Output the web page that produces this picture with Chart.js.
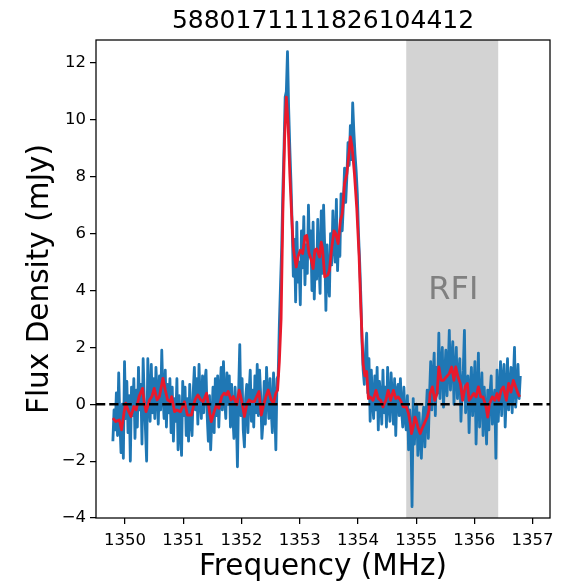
<!DOCTYPE html>
<html>
<head>
<meta charset="utf-8">
<script src="https://cdn.jsdelivr.net/npm/chart.js@4.4.0/dist/chart.umd.min.js"></script>
<style>
  html, body { margin: 0; padding: 0; background: #fff; }
</style>
</head>
<body>
<canvas id="chart_spectrum" width="564" height="582"></canvas>
<script>
const chartTitle = "5880171111826104412";
const xLabel = "Frequency (MHz)";
const yLabel = "Flux Density (mJy)";

// channel frequencies of the raw spectrum (MHz)
const freqStart = 1349.79;
const freqEnd = 1356.79;

// raw flux density per channel (mJy)
const fluxRaw = [
  -1.3, -0.2, -0.9, 0.4, -1.1, 1.1, -0.6, -1.7, 0.0, -1.9,
  1.5, -0.5, 0.8, -1.0, 0.3, -2.0, 0.6, -0.4, 0.9, -1.2,
  0.5, -0.8, 1.3, -0.2, 0.7, -1.4, 1.6, 0.1, -0.9, -2.0,
  1.6, 0.2, -0.6, 1.4, -0.3, 0.9, -0.5, 1.3, 0.4, -0.7,
  1.0, -0.2, 1.9, 0.3, -0.5, 1.2, -0.8, 0.7, -0.3, 0.9,
  -1.0, 0.6, -1.3, 0.2, -0.6, 0.9, -1.6, 0.3, -0.9, -1.8,
  0.8, -0.4, 0.6, -1.1, 0.2, -1.3, 0.7, -0.6, -1.1, 0.4,
  1.3, -0.2, 0.9, -0.7, 1.4, 0.1, -0.5, 1.0, -0.3, 0.8,
  1.2, -0.4, -1.3, 0.3, -1.6, -0.5, 0.6, -1.0, 0.9, -0.4,
  1.0, -0.8, 0.4, 1.3, -0.2, 1.5, 0.2, -0.5, 1.1, 0.0,
  1.0, -0.8, 0.7, -0.4, -1.2, 0.6, -0.3, -2.2, 0.4, 2.1,
  -0.4, 0.9, -0.9, -1.5, 0.2, 0.7, -1.0, 0.4, 1.2, -0.6,
  0.5, -0.8, 1.0, -0.3, 1.4, -0.4, 1.2, 0.3, -1.2, -0.6,
  0.8, -0.7, 1.3, 0.2, -0.5, 0.9, -0.2, -1.0, 1.1, 0.0,
  -1.6, 0.9, 1.0, 2.8,
  // first horn
  4.2, 5.5, 7.5, 9.0, 10.8, 11.0, 12.4, 10.4, 9.0, 7.8, 6.3, 4.5,
  // trough
  5.8, 3.6, 6.4, 4.3, 5.0, 3.5, 6.1, 4.8, 6.6, 4.2,
  5.6, 4.6, 7.0, 5.2, 6.1, 4.0, 6.4, 3.7, 5.3, 4.4,
  6.5, 5.0, 3.9, 6.8, 4.6, 7.0, 5.5, 3.3, 5.6, 4.2,
  3.8, 6.0, 4.9, 6.8, 5.6, 5.0, 7.2, 4.7,
  // second horn
  6.0, 5.2, 7.4, 6.1, 7.0, 8.3, 7.1, 8.0, 9.2, 8.4, 9.8, 8.6, 10.6, 9.6,
  8.8, 8.2, 7.4, 6.0, 5.0, 3.8, 2.2, 1.2, 0.7, 1.8,
  // baseline and RFI region
  2.5, 0.4, 1.6, -0.6, 1.2, 0.1, -0.5, 1.0, -0.2, 1.3,
  -0.9, 0.8, 0.2, -0.7, 1.2, -0.3, 0.6, -0.8, 1.3, 0.0,
  -0.6, 1.1, 0.3, -0.7, 0.9, -1.1, 0.5, 0.7, -0.4, 0.9,
  -0.2, -0.8, 0.6, -0.5, -0.9, 0.3, -1.6, -0.2, -0.9, -3.6,
  0.2, -1.4, -0.5, 0.0, -1.8, -0.3, -1.2, -1.9, -0.6, -0.1,
  -1.5, -0.4, 0.5, -1.2, 0.3, 1.5, -0.2, 0.9, 1.8, -0.4,
  1.3, 0.4, 2.5, 0.2, 1.4, 2.0, -0.1, 1.0, 1.9, 0.3,
  1.2, 2.6, 0.5, 1.6, 2.2, 0.0, 1.1, 2.0, 0.2, 1.0,
  1.6, -0.6, 0.6, 1.2, 2.6, -0.3, 0.4, 1.0, -1.0, 0.5,
  1.3, -0.4, 0.4, 1.5, -1.4, 0.3, 1.8, -0.8, 0.2, 1.1,
  -1.1, 0.6, -0.3, -1.4, 0.5, -0.9, 0.4, 1.0, -0.7, 0.1,
  0.5, -1.9, 1.2, -0.6, 0.3, 1.5, -0.4, 0.9, 1.4, -0.8,
  0.4, 1.6, -0.2, 0.6, 1.3, -0.3, 0.8, 2.0, -0.1, 0.5,
  1.4, 0.2, 1.0
];

// smoothed spectrum (red)
const smoothFreq = [
  1349.79, 1349.84, 1349.90, 1349.94, 1349.98, 1350.01, 1350.05, 1350.10, 1350.15, 1350.19,
  1350.24, 1350.30, 1350.33, 1350.36, 1350.42, 1350.46, 1350.50, 1350.55, 1350.59, 1350.65,
  1350.69, 1350.73, 1350.78, 1350.80, 1350.85, 1350.89, 1350.95, 1350.99, 1351.02, 1351.07,
  1351.14, 1351.20, 1351.25, 1351.30, 1351.34, 1351.40, 1351.46, 1351.48, 1351.53, 1351.57,
  1351.61, 1351.66, 1351.70, 1351.74, 1351.77, 1351.82, 1351.86, 1351.92, 1351.96, 1352.00,
  1352.05, 1352.09, 1352.13, 1352.17, 1352.22, 1352.26, 1352.30, 1352.34, 1352.38, 1352.42,
  1352.46, 1352.51, 1352.55, 1352.59, 1352.62, 1352.65, 1352.68, 1352.71, 1352.74, 1352.77,
  1352.80, 1352.83, 1352.86, 1352.89, 1352.92, 1352.94, 1352.97, 1353.01, 1353.05, 1353.09,
  1353.12, 1353.16, 1353.20, 1353.23, 1353.26, 1353.29, 1353.34, 1353.37, 1353.39, 1353.43,
  1353.48, 1353.51, 1353.55, 1353.59, 1353.62, 1353.66, 1353.70, 1353.73, 1353.77, 1353.81,
  1353.85, 1353.87, 1353.90, 1353.94, 1353.98, 1354.02, 1354.05, 1354.09, 1354.12, 1354.15,
  1354.18, 1354.21, 1354.26, 1354.31, 1354.35, 1354.39, 1354.43, 1354.48, 1354.52, 1354.56,
  1354.61, 1354.65, 1354.69, 1354.73, 1354.78, 1354.83, 1354.87, 1354.90, 1354.92, 1354.95,
  1354.98, 1355.00, 1355.03, 1355.07, 1355.10, 1355.14, 1355.19, 1355.22, 1355.24, 1355.28,
  1355.32, 1355.36, 1355.39, 1355.43, 1355.47, 1355.52, 1355.57, 1355.61, 1355.65, 1355.68,
  1355.72, 1355.76, 1355.80, 1355.84, 1355.88, 1355.91, 1355.95, 1355.99, 1356.03, 1356.07,
  1356.11, 1356.15, 1356.20, 1356.23, 1356.26, 1356.31, 1356.35, 1356.39, 1356.42, 1356.46,
  1356.50, 1356.55, 1356.59, 1356.63, 1356.67, 1356.71, 1356.75, 1356.78
];
const smoothFlux = [
  -0.49, -0.61, -0.55, -0.90, -0.32, 0.04, -0.20, -0.43, -0.08, -0.20,
  0.27, 0.56, 0.04, -0.26, 0.15, 0.27, 0.56, 0.15, 0.27, 0.91,
  0.50, 0.15, 0.09, 0.27, -0.26, -0.20, -0.26, -0.08, 0.09, -0.38,
  -0.38, 0.15, 0.33, 0.15, 0.09, 0.39, -0.38, -0.61, -0.26, -0.02,
  -0.14, 0.27, 0.39, 0.33, 0.45, 0.15, 0.27, -0.02, 0.50, 0.15,
  -0.43, -0.02, 0.15, 0.09, 0.09, 0.27, 0.45, -0.38, -0.02, 0.27,
  0.50, 0.15, 0.04, 0.39, 0.50, 1.5, 3.0, 6.7, 9.3, 10.8,
  9.9, 8.1, 6.7, 5.5, 5.06, 4.83, 5.18, 5.42, 5.3, 5.9,
  5.94, 5.3, 5.06, 4.77, 5.42, 5.47, 5.18, 5.7, 5.5, 4.48,
  4.54, 4.7, 5.5, 6.1, 6.0, 5.65, 6.47, 6.7, 7.76, 8.1,
  8.9, 9.4, 9.05, 8.1, 6.9, 5.2, 3.4, 1.4, 1.0, 1.15,
  0.2, 0.26, 0.14, 0.49, 0.2, 0.14, -0.09, 0.14, 0.49, 0.14,
  0.49, 0.2, 0.26, 0.14, -0.09, -0.09, -0.33, -0.68, -1.03, -0.8,
  -0.45, -0.56, -0.8, -1.03, -0.86, -0.68, -0.45, -0.21, 0.38, 0.61,
  0.14, 0.38, 1.31, 0.84, 0.84, 0.96, 1.08, 1.31, 0.84, 1.31,
  0.96, 0.73, 0.14, 0.61, 0.73, 0.14, 0.26, 0.38, 0.26, 0.61,
  0.26, 0.26, -0.09, -0.45, 0.02, 0.26, 0.14, 0.38, 0.14, 0.49,
  0.61, 0.14, 0.73, 0.43, 0.84, 0.61, 0.38, 0.26
];

const rfiBand = [1354.83, 1356.41];
const rfiLabel = "RFI";
const rfiLabelPos = [1355.64, 4.0];

const xRange = [1349.5, 1357.3];
const yRange = [-4, 12.81];
const xTicks = [1350, 1351, 1352, 1353, 1354, 1355, 1356, 1357];
const yTicks = [-4, -2, 0, 2, 4, 6, 8, 10, 12];

const fontFamily = '"DejaVu Sans", sans-serif';

const freqStep = (freqEnd - freqStart) / (fluxRaw.length - 1);
const rawPoints = fluxRaw.map((v, i) => ({ x: freqStart + i * freqStep, y: v }));
const smoothPoints = smoothFlux.map((v, i) => ({ x: smoothFreq[i], y: v }));
const zeroLine = [{ x: xRange[0], y: 0 }, { x: xRange[1], y: 0 }];

function minusLabel(v) {
  return v < 0 ? "\u2212" + Math.abs(v) : String(v);
}

// grey RFI band behind the data, frame and texts on top
const decorations = {
  id: 'decorations',
  beforeDatasetsDraw(chart) {
    const { ctx, chartArea, scales } = chart;
    const x0 = scales.x.getPixelForValue(rfiBand[0]);
    const x1 = scales.x.getPixelForValue(rfiBand[1]);
    ctx.save();
    ctx.fillStyle = '#d3d3d3';
    ctx.fillRect(x0, chartArea.top, x1 - x0, chartArea.bottom - chartArea.top);
    ctx.fillStyle = '#808080';
    ctx.font = '32px ' + fontFamily;
    ctx.textAlign = 'center';
    ctx.textBaseline = 'middle';
    ctx.fillText(rfiLabel, scales.x.getPixelForValue(rfiLabelPos[0]), scales.y.getPixelForValue(rfiLabelPos[1]));
    ctx.restore();
  },
  afterDraw(chart) {
    const { ctx, chartArea } = chart;
    ctx.save();
    ctx.strokeStyle = '#000';
    ctx.lineWidth = 1.25;
    ctx.strokeRect(chartArea.left, chartArea.top, chartArea.right - chartArea.left, chartArea.bottom - chartArea.top);

    const cx = (chartArea.left + chartArea.right) / 2;
    const cy = (chartArea.top + chartArea.bottom) / 2;
    ctx.fillStyle = '#000';
    ctx.textAlign = 'center';
    ctx.textBaseline = 'middle';
    ctx.font = '25px ' + fontFamily;
    ctx.fillText(chartTitle, cx, 21);
    ctx.font = '29.5px ' + fontFamily;
    ctx.fillText(xLabel, cx, 567);
    ctx.translate(40, cy);
    ctx.rotate(-Math.PI / 2);
    ctx.fillText(yLabel, 0, 0);
    ctx.restore();
  }
};

const axisCommon = {
  type: 'linear',
  grid: { drawOnChartArea: false, drawTicks: true, tickLength: 6, color: '#000', lineWidth: 1.25 },
  border: { display: false },
  ticks: {
    color: '#000',
    font: { family: fontFamily, size: 16.5 },
    padding: 4,
    maxRotation: 0,
    autoSkip: false,
    callback: (v) => minusLabel(v)
  }
};

new Chart(document.getElementById('chart_spectrum'), {
  type: 'scatter',
  data: {
    datasets: [
      {
        data: zeroLine,
        showLine: true,
        borderColor: '#000',
        borderWidth: 2.6,
        borderDash: [9.25, 4],
        pointRadius: 0,
        order: 0
      },
      {
        data: smoothPoints,
        showLine: true,
        borderColor: '#e8192c',
        borderWidth: 2.8,
        borderJoinStyle: 'round',
        pointRadius: 0,
        order: 1
      },
      {
        data: rawPoints,
        showLine: true,
        borderColor: '#1f77b4',
        borderWidth: 2.8,
        borderJoinStyle: 'round',
        pointRadius: 0,
        order: 2
      }
    ]
  },
  options: {
    responsive: false,
    animation: false,
    devicePixelRatio: 1,
    layout: { padding: { top: 40, right: 14, bottom: 0, left: 0 } },
    plugins: {
      legend: { display: false },
      tooltip: { enabled: false }
    },
    scales: {
      x: {
        ...axisCommon,
        min: xRange[0],
        max: xRange[1],
        ticks: { ...axisCommon.ticks, padding: 7 },
        afterBuildTicks: (scale) => { scale.ticks = xTicks.map(v => ({ value: v })); },
        afterFit: (scale) => { scale.height = 64; }
      },
      y: {
        ...axisCommon,
        min: yRange[0],
        max: yRange[1],
        afterBuildTicks: (scale) => { scale.ticks = yTicks.map(v => ({ value: v })); },
        afterFit: (scale) => { scale.width = 96; }
      }
    }
  },
  plugins: [decorations]
});
</script>
</body>
</html>
